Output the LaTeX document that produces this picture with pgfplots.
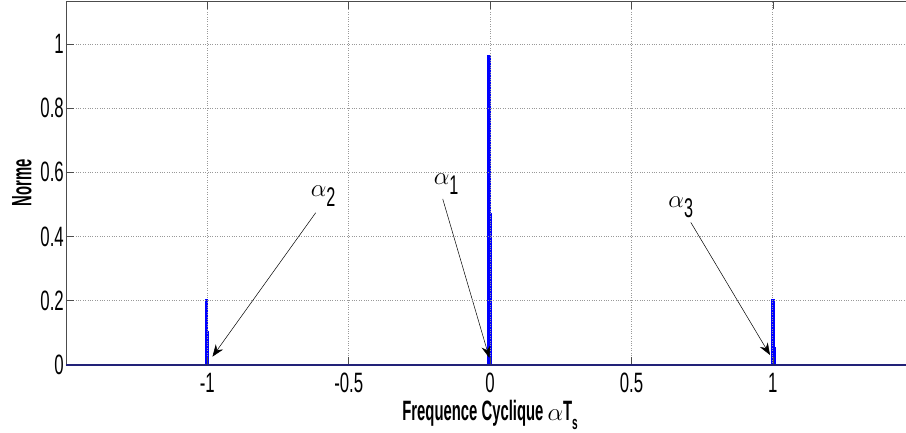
\documentclass[border=0pt]{standalone}
\usepackage{fontspec}
\usepackage{pgfplots}
\usepackage{pgfplotstable}
\pgfplotsset{compat=1.18}
\usetikzlibrary{arrows.meta}
\newfontfamily\tickfont[FakeStretch=0.6]{Liberation Sans}
\newfontfamily\labfont[FakeStretch=0.53]{Liberation Sans}
\definecolor{navyline}{RGB}{34,34,120}
\newcommand\alphalabel[1]{{\fontsize{29}{30}\selectfont$\alpha$}\raisebox{-10pt}{\tickfont\fontsize{27}{28}\selectfont #1}}

\pgfplotstableread{
x y
-1.5 0
-1.0045 0
-1.0045 0.20
-1.0030 0.20
-1.0030 0.15
-1.0015 0.15
-1.0015 0.10
-1.0000 0.10
-1.0000 0.05
-0.9985 0.05
-0.9985 0
-0.0045 0
-0.0045 0.96
-0.0030 0.96
-0.0030 0.72
-0.0015 0.72
-0.0015 0.47
0.0000 0.47
0.0000 0.23
0.0015 0.23
0.0015 0
0.9995 0
0.9995 0.20
1.0010 0.20
1.0010 0.15
1.0025 0.15
1.0025 0.10
1.0040 0.10
1.0040 0.05
1.0055 0.05
1.0055 0
1.5 0
}\datatable

\begin{document}
\begin{tikzpicture}
\begin{axis}[
  scale only axis, width=840pt, height=364pt,
  xmin=-1.5, xmax=1.471, ymin=0, ymax=1.1336,
  axis on top,
  axis y line*=left, axis x line*=box,
  axis line style={-, draw=black!70, line width=0.9pt},
  xtick={-1,-0.5,0,0.5,1}, ytick={0,0.2,0.4,0.6,0.8,1},
  xticklabels={-1,-0.5,0,0.5,1}, yticklabels={0,0.2,0.4,0.6,0.8,1},
  xtick pos=both, ytick pos=left,
  tick align=inside, major tick length=8pt,
  tick style={draw=black!70, line width=0.6pt},
  grid=major, grid style={dotted, draw=black!40, line width=0.7pt},
  tick label style={font=\tickfont\fontsize{28}{30}\selectfont, inner sep=2pt},
  xticklabel style={yshift=-6pt},
  /pgf/number format/assume math mode=true,
  xlabel={Frequence Cyclique {\mdseries$\alpha$}T\raisebox{-9pt}{\fontsize{19}{20}\selectfont s}},
  ylabel={Norme},
  label style={font=\labfont\bfseries\fontsize{28}{30}\selectfont},
  xlabel style={at={(axis description cs:0.5049,0)}, anchor=base, yshift=-55pt},
  ylabel style={at={(axis description cs:-0.0524,0.5)}, anchor=center},
  after end axis/.code={\draw[navyline, line width=1.6pt] (rel axis cs:0,0) -- (rel axis cs:1,0);},
]
\addplot[color=blue, line width=3pt, line join=miter] table {\datatable};
\draw[-{Stealth[length=12pt,width=9pt]}, line width=0.5pt] (axis cs:-0.617,0.474) -- (axis cs:-0.982,0.026);
\draw[-{Stealth[length=12pt,width=9pt]}, line width=0.5pt] (axis cs:-0.1675,0.517) -- (axis cs:-0.0025,0.022);
\draw[-{Stealth[length=12pt,width=9pt]}, line width=0.5pt] (axis cs:0.710,0.444) -- (axis cs:0.990,0.031);
\node[anchor=base west, inner sep=0] at (axis cs:-0.635,0.524) {\alphalabel{2}};
\node[anchor=base west, inner sep=0] at (axis cs:-0.200,0.561) {\alphalabel{1}};
\node[anchor=base west, inner sep=0] at (axis cs:0.630,0.489) {\alphalabel{3}};
\end{axis}
\pgfresetboundingbox
\path[use as bounding box] (-66pt,-67pt) rectangle (840pt,365pt);
\end{tikzpicture}
\end{document}
